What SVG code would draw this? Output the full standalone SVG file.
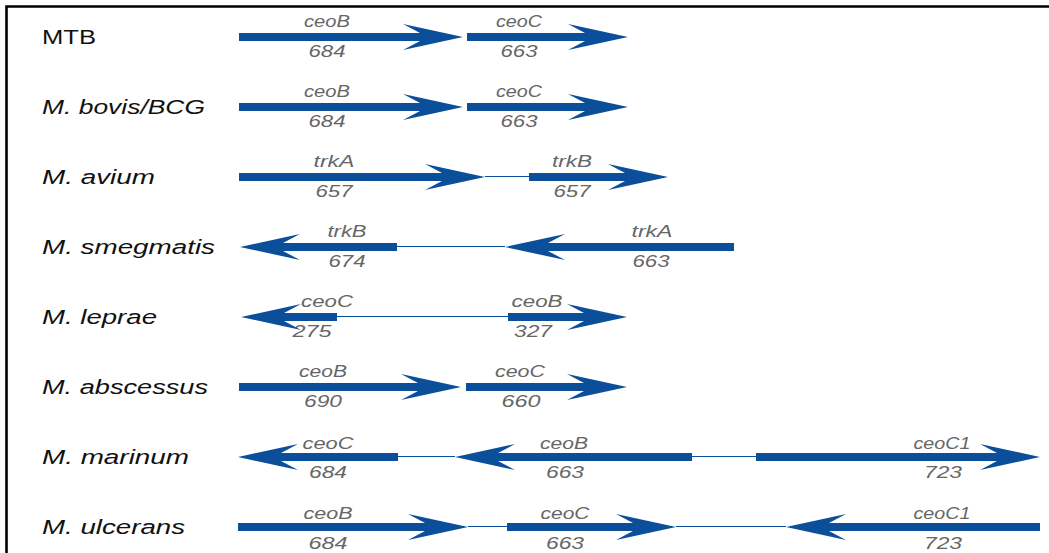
<svg xmlns="http://www.w3.org/2000/svg" width="1049" height="553" viewBox="0 0 1049 553">
  <style>
    .gene { fill: #0b4f9b; }
    .link { stroke: #0b4f9b; stroke-width: 1.1; fill: none; }
    .sp { font-family: "Liberation Sans", Arial, sans-serif; font-size: 20px; fill: #111; font-style: italic; }
    .sp.up { font-style: normal; }
    .lb { font-family: "Liberation Sans", Arial, sans-serif; font-size: 16px; font-style: italic; fill: #666; text-anchor: middle; }
    .frame { stroke: #000; stroke-width: 2.6; fill: none; }
  </style>

  <rect width="1049" height="553" fill="#fff"/>
  <path class="frame" d="M6.5 556 V6.5 H1052"/>

  <!-- species names -->
  <g id="species">
    <text class="sp up" x="42" y="44" textLength="54" lengthAdjust="spacingAndGlyphs">MTB</text>
    <text class="sp" x="42" y="114" textLength="163" lengthAdjust="spacingAndGlyphs">M. bovis/BCG</text>
    <text class="sp" x="42" y="184" textLength="113" lengthAdjust="spacingAndGlyphs">M. avium</text>
    <text class="sp" x="42" y="254" textLength="173" lengthAdjust="spacingAndGlyphs">M. smegmatis</text>
    <text class="sp" x="42" y="324" textLength="115" lengthAdjust="spacingAndGlyphs">M. leprae</text>
    <text class="sp" x="42" y="394" textLength="166" lengthAdjust="spacingAndGlyphs">M. abscessus</text>
    <text class="sp" x="42" y="464" textLength="147" lengthAdjust="spacingAndGlyphs">M. marinum</text>
    <text class="sp" x="42" y="534" textLength="143" lengthAdjust="spacingAndGlyphs">M. ulcerans</text>
  </g>

  <!-- intergenic spacers -->
  <g id="connectors">
    <line class="link" x1="485" y1="176.5" x2="529" y2="176.5"/>
    <line class="link" x1="397" y1="246.5" x2="505" y2="246.5"/>
    <line class="link" x1="337" y1="316.5" x2="508" y2="316.5"/>
    <line class="link" x1="398" y1="456.5" x2="455" y2="456.5"/>
    <line class="link" x1="692" y1="456.5" x2="756" y2="456.5"/>
    <line class="link" x1="468" y1="526.5" x2="507" y2="526.5"/>
    <line class="link" x1="676" y1="526.5" x2="786" y2="526.5"/>
  </g>

  <!-- MTB -->
  <g id="mtb-ceoB">
    <polygon class="gene" points="239,33 420,33 403,24 463,37 403,50 420,41 239,41"/>
    <text class="lb" x="327" y="27" textLength="46" lengthAdjust="spacingAndGlyphs">ceoB</text>
    <text class="lb" x="327" y="57" textLength="37" lengthAdjust="spacingAndGlyphs">684</text>
  </g>
  <g id="mtb-ceoC">
    <polygon class="gene" points="467,33 585,33 568,24 628,37 568,50 585,41 467,41"/>
    <text class="lb" x="519" y="27" textLength="46" lengthAdjust="spacingAndGlyphs">ceoC</text>
    <text class="lb" x="519" y="57" textLength="37" lengthAdjust="spacingAndGlyphs">663</text>
  </g>

  <!-- M. bovis/BCG -->
  <g id="bovis-ceoB">
    <polygon class="gene" points="239,103 420,103 403,94 463,107 403,120 420,111 239,111"/>
    <text class="lb" x="327" y="97" textLength="46" lengthAdjust="spacingAndGlyphs">ceoB</text>
    <text class="lb" x="327" y="127" textLength="37" lengthAdjust="spacingAndGlyphs">684</text>
  </g>
  <g id="bovis-ceoC">
    <polygon class="gene" points="467,103 585,103 568,94 628,107 568,120 585,111 467,111"/>
    <text class="lb" x="519" y="97" textLength="46" lengthAdjust="spacingAndGlyphs">ceoC</text>
    <text class="lb" x="519" y="127" textLength="37" lengthAdjust="spacingAndGlyphs">663</text>
  </g>

  <!-- M. avium -->
  <g id="avium-trkA">
    <polygon class="gene" points="239,173 442,173 425,164 485,177 425,190 442,181 239,181"/>
    <text class="lb" x="334" y="167" textLength="41" lengthAdjust="spacingAndGlyphs">trkA</text>
    <text class="lb" x="334" y="197" textLength="37" lengthAdjust="spacingAndGlyphs">657</text>
  </g>
  <g id="avium-trkB">
    <polygon class="gene" points="529,173 625,173 608,164 668,177 608,190 625,181 529,181"/>
    <text class="lb" x="572" y="167" textLength="40" lengthAdjust="spacingAndGlyphs">trkB</text>
    <text class="lb" x="572" y="197" textLength="37" lengthAdjust="spacingAndGlyphs">657</text>
  </g>

  <!-- M. smegmatis -->
  <g id="smeg-trkB">
    <polygon class="gene" points="240,247 300,234 283,243 397,243 397,251 283,251 300,260"/>
    <text class="lb" x="347" y="237" textLength="39" lengthAdjust="spacingAndGlyphs">trkB</text>
    <text class="lb" x="347" y="267" textLength="37" lengthAdjust="spacingAndGlyphs">674</text>
  </g>
  <g id="smeg-trkA">
    <polygon class="gene" points="505,247 565,234 548,243 734,243 734,251 548,251 565,260"/>
    <text class="lb" x="652" y="237" textLength="41" lengthAdjust="spacingAndGlyphs">trkA</text>
    <text class="lb" x="651" y="267" textLength="37" lengthAdjust="spacingAndGlyphs">663</text>
  </g>

  <!-- M. leprae -->
  <g id="leprae-ceoC">
    <polygon class="gene" points="241,317 301,304 284,313 337,313 337,321 284,321 301,330"/>
    <text class="lb" x="327" y="307" textLength="52" lengthAdjust="spacingAndGlyphs">ceoC</text>
    <text class="lb" x="312" y="337" textLength="39" lengthAdjust="spacingAndGlyphs">275</text>
  </g>
  <g id="leprae-ceoB">
    <polygon class="gene" points="508,313 584,313 567,304 627,317 567,330 584,321 508,321"/>
    <text class="lb" x="537" y="307" textLength="51" lengthAdjust="spacingAndGlyphs">ceoB</text>
    <text class="lb" x="533" y="337" textLength="38" lengthAdjust="spacingAndGlyphs">327</text>
  </g>

  <!-- M. abscessus -->
  <g id="absc-ceoB">
    <polygon class="gene" points="239,383 418,383 401,374 461,387 401,400 418,391 239,391"/>
    <text class="lb" x="323" y="377" textLength="48" lengthAdjust="spacingAndGlyphs">ceoB</text>
    <text class="lb" x="323" y="407" textLength="38" lengthAdjust="spacingAndGlyphs">690</text>
  </g>
  <g id="absc-ceoC">
    <polygon class="gene" points="466,383 584,383 567,374 627,387 567,400 584,391 466,391"/>
    <text class="lb" x="520" y="377" textLength="50" lengthAdjust="spacingAndGlyphs">ceoC</text>
    <text class="lb" x="521" y="407" textLength="39" lengthAdjust="spacingAndGlyphs">660</text>
  </g>

  <!-- M. marinum -->
  <g id="marinum-ceoC">
    <polygon class="gene" points="238,457 298,444 281,453 398,453 398,461 281,461 298,470"/>
    <text class="lb" x="328" y="449" textLength="51" lengthAdjust="spacingAndGlyphs">ceoC</text>
    <text class="lb" x="328" y="478" textLength="38" lengthAdjust="spacingAndGlyphs">684</text>
  </g>
  <g id="marinum-ceoB">
    <polygon class="gene" points="455,457 515,444 498,453 692,453 692,461 498,461 515,470"/>
    <text class="lb" x="564" y="449" textLength="48" lengthAdjust="spacingAndGlyphs">ceoB</text>
    <text class="lb" x="565" y="478" textLength="38" lengthAdjust="spacingAndGlyphs">663</text>
  </g>
  <g id="marinum-ceoC1">
    <polygon class="gene" points="756,453 997,453 980,444 1040,457 980,470 997,461 756,461"/>
    <text class="lb" x="942" y="449" textLength="57" lengthAdjust="spacingAndGlyphs">ceoC1</text>
    <text class="lb" x="943" y="478" textLength="38" lengthAdjust="spacingAndGlyphs">723</text>
  </g>

  <!-- M. ulcerans -->
  <g id="ulcerans-ceoB">
    <polygon class="gene" points="238,523 425,523 408,514 468,527 408,540 425,531 238,531"/>
    <text class="lb" x="328" y="519" textLength="49" lengthAdjust="spacingAndGlyphs">ceoB</text>
    <text class="lb" x="328" y="549" textLength="39" lengthAdjust="spacingAndGlyphs">684</text>
  </g>
  <g id="ulcerans-ceoC">
    <polygon class="gene" points="507,523 633,523 616,514 676,527 616,540 633,531 507,531"/>
    <text class="lb" x="565" y="519" textLength="49" lengthAdjust="spacingAndGlyphs">ceoC</text>
    <text class="lb" x="565" y="549" textLength="38" lengthAdjust="spacingAndGlyphs">663</text>
  </g>
  <g id="ulcerans-ceoC1">
    <polygon class="gene" points="786,527 846,514 829,523 1040,523 1040,531 829,531 846,540"/>
    <text class="lb" x="942" y="519" textLength="57" lengthAdjust="spacingAndGlyphs">ceoC1</text>
    <text class="lb" x="943" y="549" textLength="38" lengthAdjust="spacingAndGlyphs">723</text>
  </g>
</svg>
